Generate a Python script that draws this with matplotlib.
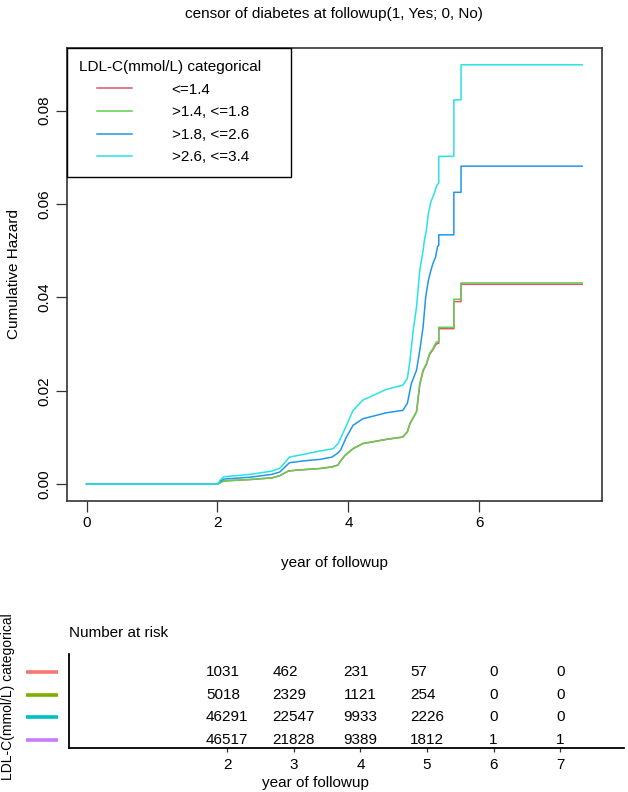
import matplotlib
matplotlib.use('Agg')
import matplotlib.pyplot as plt
import matplotlib.transforms as mtransforms
from matplotlib.lines import Line2D
from matplotlib.legend_handler import HandlerLine2D

plt.rcParams['font.family'] = ['Liberation Sans', 'DejaVu Sans']
FS = 11

groups = ['<=1.4', '>1.4, <=1.8', '>1.8, <=2.6', '>2.6, <=3.4']
curve_colors = ['#DF536B', '#61D04F', '#2297E6', '#28E2E5']
risk_colors = ['#F8766D', '#7CAE00', '#00BFC4', '#C77CFF']

# cumulative hazard; repeated times are the jumps
t_red = [0, 2.0, 2.05, 2.1, 2.5, 2.83, 2.95, 3.08, 3.2, 3.56, 3.75, 3.84, 3.87, 3.95, 4.07,
         4.22, 4.58, 4.83, 4.9, 4.94, 5.0, 5.04, 5.09, 5.14, 5.19, 5.24, 5.29, 5.34, 5.38,
         5.38, 5.61, 5.61, 5.72, 5.72, 7.57]
h_red = [0, 0, 0.0004, 0.0007, 0.001, 0.00135, 0.0018, 0.0028, 0.003, 0.00335, 0.0037,
         0.0041, 0.0048, 0.0062, 0.0076, 0.0087, 0.0096, 0.0101, 0.0112, 0.013, 0.0145,
         0.0155, 0.0213, 0.0242, 0.0256, 0.0278, 0.0288, 0.0300, 0.0302, 0.0333, 0.0333,
         0.0391, 0.0391, 0.0428, 0.0428]

t_green = t_red
h_green = [0, 0, 0.0004, 0.0007, 0.001, 0.00135, 0.0018, 0.0028, 0.003, 0.00335, 0.0037,
           0.0041, 0.0048, 0.0062, 0.0076, 0.0087, 0.0096, 0.0101, 0.0112, 0.013, 0.0145,
           0.0155, 0.0215, 0.0244, 0.0258, 0.028, 0.029, 0.0304, 0.0306, 0.0336, 0.0336,
           0.0396, 0.0396, 0.0431, 0.0431]

t_blue = [0, 2.0, 2.05, 2.1, 2.5, 2.83, 2.95, 3.1, 3.32, 3.56, 3.75, 3.84, 3.88, 3.97, 4.07,
          4.22, 4.58, 4.83, 4.9, 4.96, 5.04, 5.09, 5.14, 5.18, 5.22, 5.26, 5.29, 5.33, 5.36,
          5.38, 5.38, 5.61, 5.61, 5.72, 5.72, 7.57]
h_blue = [0, 0, 0.0007, 0.0011, 0.0015, 0.0021, 0.0026, 0.0046, 0.005, 0.0053, 0.0058,
          0.0067, 0.0073, 0.0101, 0.0126, 0.014, 0.0153, 0.0158, 0.0173, 0.0215, 0.0244,
          0.0287, 0.0336, 0.0401, 0.0436, 0.0458, 0.0472, 0.0486, 0.0508, 0.0512, 0.0534,
          0.0534, 0.0625, 0.0625, 0.0681, 0.0681]

t_cyan = [0, 2.0, 2.05, 2.1, 2.5, 2.83, 2.95, 3.1, 3.32, 3.56, 3.77, 3.84, 3.88, 3.97, 4.07,
          4.22, 4.58, 4.83, 4.9, 4.94, 4.99, 5.04, 5.09, 5.14, 5.16, 5.19, 5.22, 5.26, 5.31,
          5.35, 5.38, 5.38, 5.61, 5.61, 5.72, 5.72, 7.57]
h_cyan = [0, 0, 0.001, 0.0016, 0.0021, 0.0028, 0.0034, 0.0058, 0.0064, 0.0071, 0.0076,
          0.0087, 0.0098, 0.0126, 0.0158, 0.018, 0.0203, 0.0212, 0.0226, 0.0265, 0.033,
          0.0379, 0.0458, 0.05, 0.0522, 0.0543, 0.0579, 0.0605, 0.0622, 0.064, 0.0645,
          0.0702, 0.0702, 0.0823, 0.0823, 0.0898, 0.0898]

risk_times = [2, 3, 4, 5, 6, 7]
risk_red = [1031, 462, 231, 57, 0, 0]
risk_green = [5018, 2329, 1121, 254, 0, 0]
risk_blue = [46291, 22547, 9933, 2226, 0, 0]
risk_cyan = [46517, 21828, 9389, 1812, 1, 1]

W, H = 628, 792
fig = plt.figure(figsize=(W / 100, H / 100), dpi=100)

def box(l, t, r, b):
    return [l / W, 1 - b / H, (r - l) / W, (b - t) / H]

# ---- main cumulative hazard plot
ax = fig.add_axes(box(66.7, 48, 602, 501))
series = [(t_red, h_red), (t_green, h_green), (t_blue, h_blue), (t_cyan, h_cyan)]
for (t, h), c, g in zip(series, curve_colors, groups):
    ax.plot(t, h, color=c, lw=1.1, label=g)

ax.set_xlim(-0.303, 7.873)
ax.set_ylim(-0.0036, 0.0934)
ax.set_xticks([0, 2, 4, 6])
ax.set_yticks([0, 0.02, 0.04, 0.06, 0.08])
ax.set_yticklabels(['0.00', '0.02', '0.04', '0.06', '0.08'])
ax.tick_params(length=7.6, width=0.9, pad=3.2, labelsize=FS, color='#333333')
ax.tick_params(axis='y', labelrotation=90)
for lbl in ax.get_yticklabels():
    lbl.set_va('center')
for s in ax.spines.values():
    s.set_color('#333333')
    s.set_linewidth(1.2)

handles = [Line2D([], [], color=c, lw=1.1) for c in curve_colors]
leg = ax.legend(handles, groups, loc='upper left', bbox_to_anchor=(0, 0, 0.4185, 1),
                mode='expand', borderaxespad=0, title='LDL-C(mmol/L) categorical',
                alignment='left', fontsize=FS, title_fontsize=FS, frameon=True,
                fancybox=False, handlelength=3.47, handletextpad=2.6, labelspacing=0.56,
                borderpad=0.8, handler_map={Line2D: HandlerLine2D(xpad=1.2)})
leg.get_frame().set_edgecolor('black')
leg.get_frame().set_linewidth(1.0)
leg.get_frame().set_alpha(1)

fig.text(334 / W, 1 - 14 / H, 'censor of diabetes at followup(1, Yes; 0, No)',
         ha='center', va='center', fontsize=FS)
fig.text(334 / W, 1 - 563 / H, 'year of followup', ha='center', va='center', fontsize=FS)
fig.text(14 / W, 1 - 274 / H, 'Cumulative Hazard', ha='center', va='center',
         rotation=90, fontsize=FS)

# ---- number at risk table
axt = fig.add_axes(box(69, 654, 624, 748))
axt.set_xlim(-0.379, 7.959)
axt.set_ylim(0.65, 4.8)
for s in ['top', 'right']:
    axt.spines[s].set_visible(False)
for s in ['left', 'bottom']:
    axt.spines[s].set_linewidth(1.3)
axt.set_yticks([])
axt.set_xticks(risk_times)
axt.tick_params(axis='x', length=3, width=0.9, pad=4, labelsize=FS, color='#333333')

rows = [4, 3, 2, 1]
table = [risk_red, risk_green, risk_blue, risk_cyan]
digit_px = 0.556 * FS * 100 / 72
for j, tm in enumerate(risk_times):
    widest = max(len(str(r[j])) for r in table)
    tr = mtransforms.offset_copy(axt.transData, fig=fig, x=-widest * digit_px / 2, y=0, units='dots')
    for r, yv in zip(table, rows):
        axt.text(tm, yv, str(r[j]), transform=tr, ha='left', va='center', fontsize=FS)

bt = mtransforms.blended_transform_factory(axt.transAxes, axt.transData)
for c, yv in zip(risk_colors, rows):
    axt.plot([-0.0775, -0.0198], [yv, yv], color=c, lw=2.6, transform=bt, clip_on=False,
             solid_capstyle='butt')

fig.text(69 / W, 1 - 633 / H, 'Number at risk', ha='left', va='center', fontsize=FS)
fig.text(315 / W, 1 - 783 / H, 'year of followup', ha='center', va='center', fontsize=FS)
fig.text(8 / W, 1 - 697 / H, 'LDL-C(mmol/L) categorical', ha='center', va='center',
         rotation=90, fontsize=10)

fig.savefig('out.png', dpi=100)
